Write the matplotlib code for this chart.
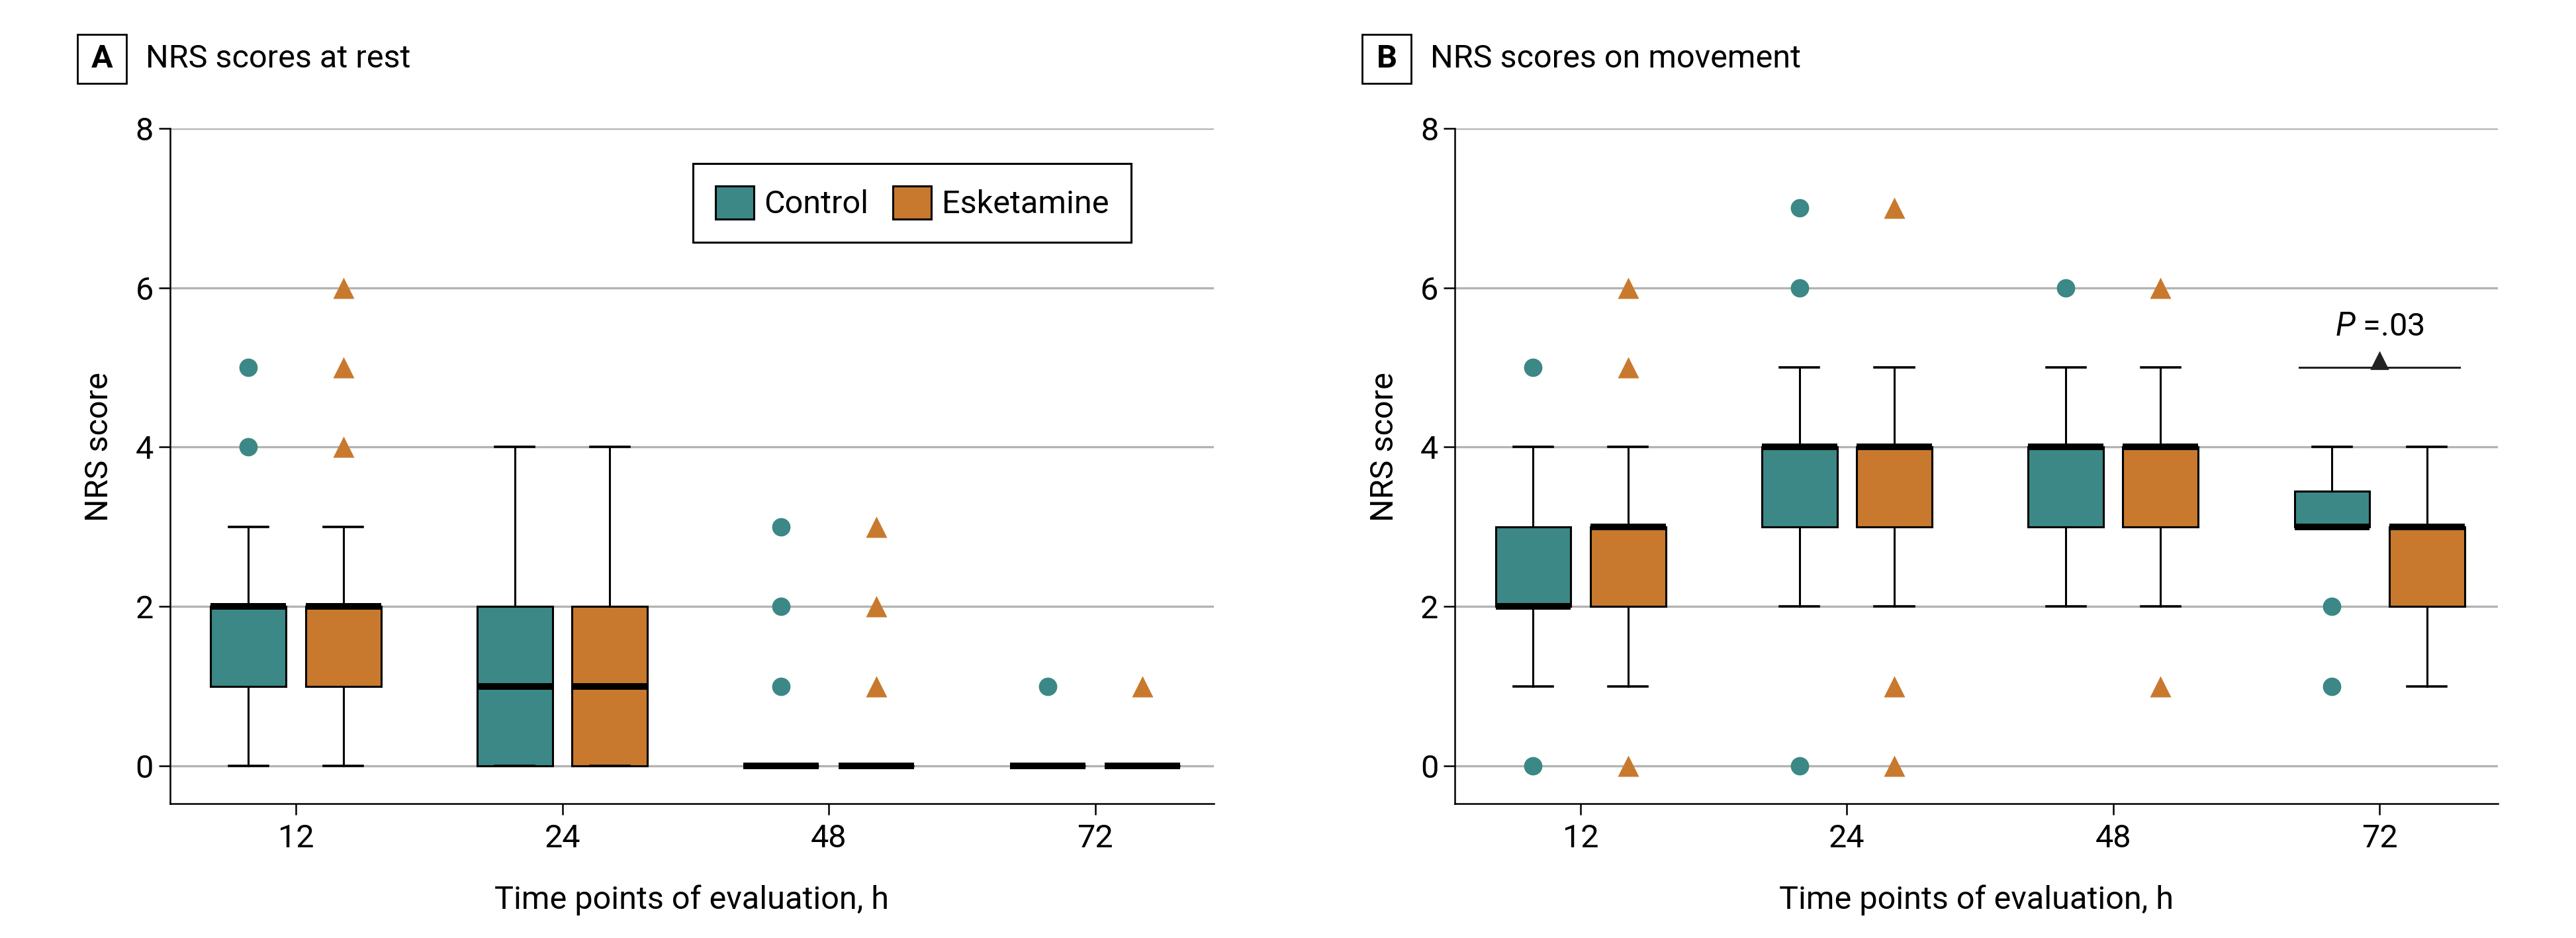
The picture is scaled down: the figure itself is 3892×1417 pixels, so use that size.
import matplotlib
matplotlib.use('Agg')
import matplotlib.pyplot as plt
from matplotlib import font_manager
from matplotlib.patches import Patch, Rectangle

available = {f.name for f in font_manager.fontManager.ttflist}
fam = next((f for f in ['Roboto', 'Lato', 'Liberation Sans'] if f in available), 'DejaVu Sans')
plt.rcParams['font.family'] = [fam, 'DejaVu Sans']
plt.rcParams['mathtext.fontset'] = 'custom'
plt.rcParams['mathtext.it'] = fam + ':italic'
plt.rcParams['mathtext.rm'] = fam

# ---------------- data ----------------
time_points = ['12', '24', '48', '72']
groups = ['Control', 'Esketamine']

rest_control_q1 = [1, 0, 0, 0]
rest_control_median = [2, 1, 0, 0]
rest_control_q3 = [2, 2, 0, 0]
rest_control_whislo = [0, 0, 0, 0]
rest_control_whishi = [3, 4, 0, 0]
rest_control_outliers = [[4, 5], [], [1, 2, 3], [1]]

rest_esk_q1 = [1, 0, 0, 0]
rest_esk_median = [2, 1, 0, 0]
rest_esk_q3 = [2, 2, 0, 0]
rest_esk_whislo = [0, 0, 0, 0]
rest_esk_whishi = [3, 4, 0, 0]
rest_esk_outliers = [[4, 5, 6], [], [1, 2, 3], [1]]

move_control_q1 = [2, 3, 3, 3]
move_control_median = [2, 4, 4, 3]
move_control_q3 = [3, 4, 4, 3.45]
move_control_whislo = [1, 2, 2, 3]
move_control_whishi = [4, 5, 5, 4]
move_control_outliers = [[0, 5], [0, 6, 7], [6], [1, 2]]

move_esk_q1 = [2, 3, 3, 2]
move_esk_median = [3, 4, 4, 3]
move_esk_q3 = [3, 4, 4, 3]
move_esk_whislo = [1, 2, 2, 1]
move_esk_whishi = [4, 5, 5, 4]
move_esk_outliers = [[0, 5, 6], [0, 1, 7], [1, 6], []]

p_label = '$\\it{P}$ =.03'
p_time_index = 3
p_bracket_y = 5

panel_letters = ['A', 'B']
panel_titles = ['NRS scores at rest', 'NRS scores on movement']
y_ticks = [0, 2, 4, 6, 8]

# ---------------- style ----------------
TEAL = '#3B8886'
ORANGE = '#C8792E'
GRID = '#B3B3B3'
FS = 17.5
OFF = 0.178
BOXW = 0.283
CAPW = 0.147


def stats(q1, med, q3, lo, hi, fl):
    return [dict(q1=a, med=b, q3=c, whislo=d, whishi=e, fliers=f, label='')
            for a, b, c, d, e, f in zip(q1, med, q3, lo, hi, fl)]


panels = [
    (stats(rest_control_q1, rest_control_median, rest_control_q3,
           rest_control_whislo, rest_control_whishi, rest_control_outliers),
     stats(rest_esk_q1, rest_esk_median, rest_esk_q3,
           rest_esk_whislo, rest_esk_whishi, rest_esk_outliers)),
    (stats(move_control_q1, move_control_median, move_control_q3,
           move_control_whislo, move_control_whishi, move_control_outliers),
     stats(move_esk_q1, move_esk_median, move_esk_q3,
           move_esk_whislo, move_esk_whishi, move_esk_outliers)),
]

fig = plt.figure(figsize=(19.46, 7.085), dpi=200)
axes_rects = [[0.0660, 0.1433, 0.4052, 0.7198], [0.5648, 0.1433, 0.4049, 0.7198]]
box_x = [117, 2058]

for k, (rect, (ctrl, esk)) in enumerate(zip(axes_rects, panels)):
    ax = fig.add_axes(rect)
    ax.set_axisbelow(True)
    for s, color, marker, msize, sgn in [(ctrl, TEAL, 'o', 10, -1), (esk, ORANGE, '^', 11.5, 1)]:
        pos = [i + sgn * OFF for i in range(len(time_points))]
        ax.bxp(s, positions=pos, widths=BOXW, capwidths=CAPW, patch_artist=True,
               showfliers=True, manage_ticks=False,
               boxprops=dict(facecolor=color, edgecolor='black', linewidth=1.1),
               medianprops=dict(color='black', linewidth=3.6, solid_capstyle='butt'),
               whiskerprops=dict(color='black', linewidth=1.1),
               capprops=dict(color='black', linewidth=1.3),
               flierprops=dict(marker=marker, markerfacecolor=color,
                               markeredgecolor='none', markersize=msize))
    ax.set_xlim(-0.472, 3.445)
    ax.set_ylim(-0.473, 8)
    ax.set_xticks(range(len(time_points)))
    ax.set_xticklabels(time_points)
    ax.set_yticks(y_ticks)
    ax.yaxis.grid(True, color=GRID, linewidth=1.2)
    for sp in ['top', 'right']:
        ax.spines[sp].set_visible(False)
    for sp in ['left', 'bottom']:
        ax.spines[sp].set_linewidth(0.9)
    ax.tick_params(axis='both', length=6, width=0.9, labelsize=FS, pad=3)
    ax.tick_params(axis='x', pad=5)
    ax.set_ylabel('NRS score', fontsize=FS)
    ax.yaxis.set_label_coords(-0.053, 0.528)
    ax.set_xlabel('Time points of evaluation, h', fontsize=FS)
    ax.xaxis.set_label_coords(0.5, -0.12)

    if k == 0:
        handles = [Patch(facecolor=TEAL, edgecolor='black', linewidth=1.1, label=groups[0]),
                   Patch(facecolor=ORANGE, edgecolor='black', linewidth=1.1, label=groups[1])]
        leg = ax.legend(handles=handles, loc='upper right', bbox_to_anchor=(0.921, 0.948),
                        ncol=2, fontsize=FS, frameon=True, fancybox=False, framealpha=1,
                        edgecolor='black', handlelength=1.2, handleheight=1.2,
                        handletextpad=0.32, columnspacing=0.75, borderpad=0.7,
                        borderaxespad=0)
        leg.get_frame().set_linewidth(1.1)
    else:
        i = p_time_index
        ax.plot([i - 0.3, i + 0.3], [p_bracket_y, p_bracket_y], color='#222222', linewidth=1.1)
        ax.plot([i], [p_bracket_y + 0.085], marker='^', color='#222222', markersize=8.6,
                linestyle='none')
        ax.text(i, p_bracket_y + 0.51, p_label, ha='center', va='center', fontsize=FS)

    # panel header
    bx = box_x[k]
    fig.patches.append(Rectangle((bx / 3892, 1 - 126 / 1417), 74 / 3892, 74 / 1417,
                                 transform=fig.transFigure, fill=False,
                                 edgecolor='black', linewidth=1.0))
    fig.text((bx + 37) / 3892, 1 - 89 / 1417, panel_letters[k], ha='center', va='center',
             fontsize=FS, fontweight='bold')
    fig.text((bx + 103) / 3892, 1 - 89 / 1417, panel_titles[k], ha='left', va='center',
             fontsize=FS)

fig.savefig('out.png', dpi=200)
